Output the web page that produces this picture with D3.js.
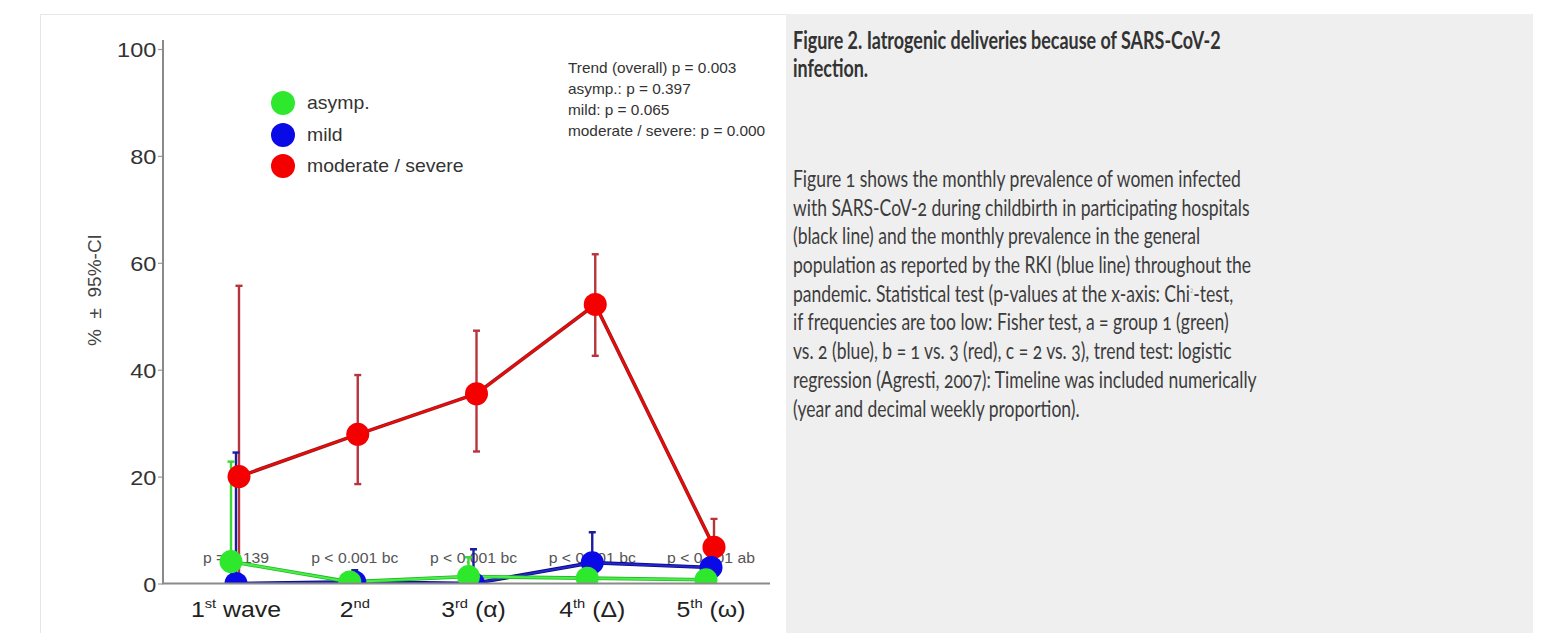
<!DOCTYPE html>
<html>
<head>
<meta charset="utf-8">
<script src="https://cdn.jsdelivr.net/npm/d3@7"></script>
<style>
  html, body { margin: 0; padding: 0; background: #fff; }
  svg { display: block; }
</style>
</head>
<body>
<svg id="chart" width="1562" height="633"></svg>
<script>
// ---- data ----
const waves    = ["1st wave", "2nd", "3rd (α)", "4th (Δ)", "5th (ω)"];
const waveNum  = ["1", "2", "3", "4", "5"];
const waveSup  = ["st", "nd", "rd", "th", "th"];
const waveTail = [" wave", "", " (α)", " (Δ)", " (ω)"];

const asymp    = [4.1, 0.3, 1.3, 1.0, 0.7];
const asympLo  = [0, 0, 0.2, 0.2, 0];
const asympHi  = [22.8, 1.5, 4.9, 3.5, 2.5];

const mild     = [0, 0.3, 0, 3.9, 3.0];
const mildLo   = [0, 0, 0, 1.2, 0.8];
const mildHi   = [24.5, 2.5, 6.4, 9.6, 8.2];

const severe   = [20.0, 27.9, 35.5, 52.2, 6.8];
const severeLo = [0.5, 18.6, 24.7, 42.6, 2.6];
const severeHi = [55.7, 39.0, 47.3, 61.6, 12.1];

const pLabels  = ["p = 0.139", "p < 0.001 bc", "p < 0.001 bc", "p < 0.001 bc", "p < 0.001 ab"];
const yTicks   = [0, 20, 40, 60, 80, 100];
const trendText = ["Trend (overall) p = 0.003", "asymp.: p = 0.397", "mild: p = 0.065", "moderate / severe: p = 0.000"];
const legendNames = ["asymp.", "mild", "moderate / severe"];

const captionTitle = ["Figure 2. Iatrogenic deliveries because of SARS-CoV-2", "infection."];
const captionBody = [
  "Figure 1 shows the monthly prevalence of women infected",
  "with SARS-CoV-2 during childbirth in participating hospitals",
  "(black line) and the monthly prevalence in the general",
  "population as reported by the RKI (blue line) throughout the",
  ["pandemic. Statistical test (p-values at the x-axis: Chi", "2", "-test,"],
  "if frequencies are too low: Fisher test, a = group 1 (green)",
  "vs. 2 (blue), b = 1 vs. 3 (red), c = 2 vs. 3), trend test: logistic",
  "regression (Agresti, 2007): Timeline was included numerically",
  "(year and decimal weekly proportion)."
];

// ---- layout ----
const W = 1562, H = 633;
const svg = d3.select("#chart");
const chartFont = "'Liberation Sans', Arial, Helvetica, sans-serif";

svg.append("rect").attr("width", W).attr("height", H).attr("fill", "#fff");
// caption panel and figure frame
svg.append("rect").attr("x", 786).attr("y", 14).attr("width", 747).attr("height", H - 14).attr("fill", "#efefef");
svg.append("path").attr("d", "M40.5,633V14.5H786").attr("fill", "none").attr("stroke", "#e6e6e6");

const y = d3.scaleLinear().domain([0, 100]).range([583.5, 49]);
const x = d3.scalePoint().domain(waves).range([236, 711]);
const axisX0 = 163, axisX1 = 770;

// ---- y axis ----
const gY = svg.append("g").attr("transform", `translate(${axisX0},0)`)
  .call(d3.axisLeft(y).tickValues(yTicks).tickSize(5).tickSizeOuter(0).tickPadding(2));
gY.select(".domain").remove();
gY.selectAll(".tick line").attr("stroke", "#9a9a9a").attr("stroke-width", 1.2);
gY.selectAll(".tick text")
  .attr("font-family", chartFont).attr("font-size", 21).attr("fill", "#333")
  .attr("x", -6).attr("dy", "0.36em").attr("transform", "scale(1.12,1)");

svg.append("text")
  .attr("transform", "translate(101,290) rotate(-90)")
  .attr("text-anchor", "middle")
  .attr("font-family", chartFont).attr("font-size", 19).attr("fill", "#444")
  .style("white-space", "pre")
  .text("%  ±  95%-CI");

// ---- p-value labels under the points ----
svg.append("g").selectAll("text").data(pLabels).join("text")
  .attr("transform", (d, i) => `translate(${x(waves[i])},563) scale(1.05,1)`)
  .attr("text-anchor", "middle")
  .attr("font-family", chartFont).attr("font-size", 15).attr("fill", "#555")
  .text(d => d);

// ---- series ----
const series = [
  { v: severe, lo: severeLo, hi: severeHi, fill: "#f40000", edge: "#9a1a1a", core: "#ee0a0a", bar: "#b8343c", dx: 3 },
  { v: mild,   lo: mildLo,   hi: mildHi,   fill: "#0a0ae6", edge: "#0c0c7a", core: "#2424d4", bar: "#1c1c9c", dx: 0 },
  { v: asymp,  lo: asympLo,  hi: asympHi,  fill: "#2ee82e", edge: "#22b822", core: "#48f048", bar: "#3ad83a", dx: -5 }
];

svg.append("defs").append("clipPath").attr("id", "plotClip")
  .append("rect").attr("x", axisX0).attr("y", 0).attr("width", 640).attr("height", 583.5);
const plot = svg.append("g").attr("clip-path", "url(#plotClip)");

// error bars
series.forEach(s => {
  const g = plot.append("g").attr("stroke", s.bar).attr("stroke-width", 2.4).attr("fill", "none");
  waves.forEach((w, i) => {
    const cx = x(w) + s.dx;
    g.append("line").attr("x1", cx).attr("x2", cx).attr("y1", y(s.lo[i])).attr("y2", y(s.hi[i]));
    g.append("line").attr("x1", cx - 3.5).attr("x2", cx + 3.5).attr("y1", y(s.hi[i])).attr("y2", y(s.hi[i]));
    g.append("line").attr("x1", cx - 3.5).attr("x2", cx + 3.5).attr("y1", y(s.lo[i])).attr("y2", y(s.lo[i]));
  });
});

// connecting lines: darker edge under a brighter core
series.forEach(s => {
  const line = d3.line().x((d, i) => x(waves[i]) + s.dx).y(d => y(d));
  plot.append("path").datum(s.v).attr("d", line).attr("fill", "none").attr("stroke", s.edge).attr("stroke-width", 3.6);
  plot.append("path").datum(s.v).attr("d", line).attr("fill", "none").attr("stroke", s.core).attr("stroke-width", 2.0);
});

// points
series.forEach(s => {
  plot.append("g").selectAll("circle").data(s.v).join("circle")
    .attr("cx", (d, i) => x(waves[i]) + s.dx)
    .attr("cy", d => y(d))
    .attr("r", 11.5)
    .attr("fill", s.fill);
});

// ---- axis lines ----
svg.append("line").attr("x1", axisX0).attr("x2", axisX0).attr("y1", 40).attr("y2", y(0))
  .attr("stroke", "#8a8a8a").attr("stroke-width", 2);
svg.append("line").attr("x1", axisX0 - 1).attr("x2", axisX1).attr("y1", y(0)).attr("y2", y(0))
  .attr("stroke", "#8a8a8a").attr("stroke-width", 2);

// ---- x labels with superscript ordinals ----
const xl = svg.append("g").selectAll("text").data(waves).join("text")
  .attr("transform", d => `translate(${x(d)},617) scale(1.13,1)`)
  .attr("text-anchor", "middle")
  .attr("font-family", chartFont).attr("font-size", 22).attr("fill", "#222");
xl.each(function(d, i) {
  const t = d3.select(this);
  t.append("tspan").text(waveNum[i]);
  t.append("tspan").attr("font-size", 13).attr("dy", -9).text(waveSup[i]);
  if (waveTail[i]) t.append("tspan").attr("dy", 9).text(waveTail[i]);
});

// ---- legend ----
const legendColors = [series[2].fill, series[1].fill, series[0].fill];
const legendY = [103, 135, 166];
const lg = svg.append("g");
legendNames.forEach((n, i) => {
  lg.append("circle").attr("cx", 283).attr("cy", legendY[i]).attr("r", 12).attr("fill", legendColors[i]);
  lg.append("text")
    .attr("transform", `translate(307,${legendY[i]}) scale(1.08,1)`)
    .attr("dy", "0.35em")
    .attr("font-family", chartFont).attr("font-size", 18).attr("fill", "#333")
    .text(n);
});

// ---- trend test results ----
svg.append("g").selectAll("text").data(trendText).join("text")
  .attr("transform", (d, i) => `translate(568,${73 + i * 21}) scale(1.1,1)`)
  .attr("font-family", chartFont).attr("font-size", 14).attr("fill", "#333")
  .text(d => d);

// ---- caption ----
const capFont = "Lato, 'Open Sans', 'Noto Sans', sans-serif";
const capTitle = svg.append("g");
capTitle.selectAll("text").data(captionTitle).join("text")
  .attr("x", 0).attr("y", (d, i) => 49 + i * 28.5)
  .attr("font-family", capFont).attr("font-size", 24).attr("font-weight", 700).attr("fill", "#333")
  .text(d => d);
const tW = capTitle.select("text").node().getComputedTextLength();
capTitle.attr("transform", `translate(793,0) scale(${428 / tW},1)`);

const capBody = svg.append("g");
captionBody.forEach((line, i) => {
  const t = capBody.append("text")
    .attr("x", 0).attr("y", 187 + i * 28.7)
    .attr("font-family", capFont).attr("font-size", 23).attr("fill", "#3c3c3c")
    .style("font-variant-numeric", "oldstyle-nums");
  if (Array.isArray(line)) {
    t.append("tspan").text(line[0]);
    t.append("tspan").attr("font-size", 8).attr("dy", -9).attr("fill", "#aaa").text(line[1]);
    t.append("tspan").attr("dy", 9).text(line[2]);
  } else {
    t.text(line);
  }
});
const bW = capBody.select("text").node().getComputedTextLength();
capBody.attr("transform", `translate(793,0) scale(${448 / bW},1)`);
</script>
</body>
</html>
